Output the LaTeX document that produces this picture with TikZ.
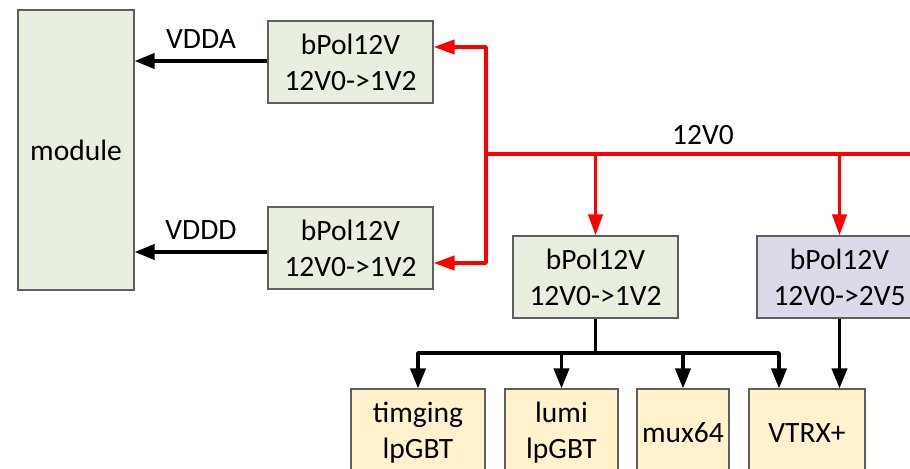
\documentclass[tikz,border=0pt]{standalone}
\usepackage{fontspec}
\setmainfont{Carlito}
\usetikzlibrary{arrows.meta}
\definecolor{boxgreen}{RGB}{233,239,222}
\definecolor{boxlav}{RGB}{221,217,232}
\definecolor{boxyellow}{RGB}{255,242,205}
\definecolor{boxedge}{RGB}{95,95,95}
\tikzset{
  blockbox/.style={draw=boxedge, line width=1.1bp, inner sep=0pt, align=center,
    font=\fontsize{29.5bp}{36bp}\selectfont, text=black},
  greenbox/.style={blockbox, fill=boxgreen},
  lavbox/.style={blockbox, fill=boxlav},
  loadbox/.style={blockbox, fill=boxyellow, minimum height=88bp},
  regbox/.style={minimum width=165bp, minimum height=82bp},
  pwrline/.style={line width=3.8bp, black, line join=round},
  pwrarrow/.style={pwrline, -{Triangle[length=20bp,width=15bp]}},
  hvline/.style={line width=3.8bp, red, line join=round},
  hvarrow/.style={hvline, -{Triangle[length=21bp,width=14bp]}},
  railtext/.style={font=\fontsize{29.5bp}{36bp}\selectfont, text=black}
}
\begin{document}
\begin{tikzpicture}[x=1bp,y=-1bp]
\useasboundingbox (0,0) rectangle (910,469);
\clip (0,0) rectangle (910,469);

% module and its two 1V2 regulators
\node[greenbox, minimum width=116bp, minimum height=280bp] (module) at (76,150) {module};
\node[greenbox, regbox] (bpa) at (350.5,62) {bPol12V\\12V0->1V2};
\node[greenbox, regbox] (bpd) at (350.5,248) {bPol12V\\12V0->1V2};

% service board regulators
\node[greenbox, regbox] (bpc) at (595.5,277) {bPol12V\\12V0->1V2};
\node[lavbox, regbox] (bpv) at (839.5,277) {bPol12V\\12V0->2V5};

% loads
\node[loadbox, minimum width=134bp] (tim) at (418,433) {timging\\lpGBT};
\node[loadbox, minimum width=113bp] (lumi) at (561.5,433) {lumi\\lpGBT};
\node[loadbox, minimum width=92bp] (mux) at (683,433) {mux64};
\node[loadbox, minimum width=116bp] (vtrx) at (807,433) {VTRX+};

% 12V0 distribution
\coordinate (j) at (486,154);
\coordinate (busend) at (915,154);
\draw[hvline] (j) -- (busend);
\node[railtext, fill=white, inner sep=1pt, anchor=base] (rail) at (703,145) {12V0};
\draw[hvarrow] (j) |- ([yshift=15bp]bpa.east);
\draw[hvarrow] (j) |- ([yshift=-15bp]bpd.east);
\draw[hvarrow] (bpc.north |- j) -- (bpc.north);
\draw[hvarrow] (bpv.north |- j) -- (bpv.north);

% module supplies
\draw[pwrarrow] ([yshift=1bp]bpa.west) -- ([yshift=1bp]bpa.west -| module.east)
  node[railtext, midway, above=11bp, inner sep=0pt] (vdda) {VDDA};
\draw[pwrarrow] ([yshift=-4bp]bpd.west) -- ([yshift=-4bp]bpd.west -| module.east)
  node[railtext, midway, above=11bp, inner sep=0pt] (vddd) {VDDD};

% 1V2 and 2V5 load distribution
\coordinate (split) at (595.5,353);
\draw[pwrline] (bpc.south) -- (split);
\draw[pwrarrow] (split) -| (tim.north);
\draw[pwrarrow] (split) -| (lumi.north);
\draw[pwrarrow] (split) -| (mux.north);
\draw[pwrarrow] (split) -| ([xshift=-28bp]vtrx.north);
\draw[pwrarrow] (bpv.south) -- (bpv.south |- vtrx.north);
\end{tikzpicture}
\end{document}
